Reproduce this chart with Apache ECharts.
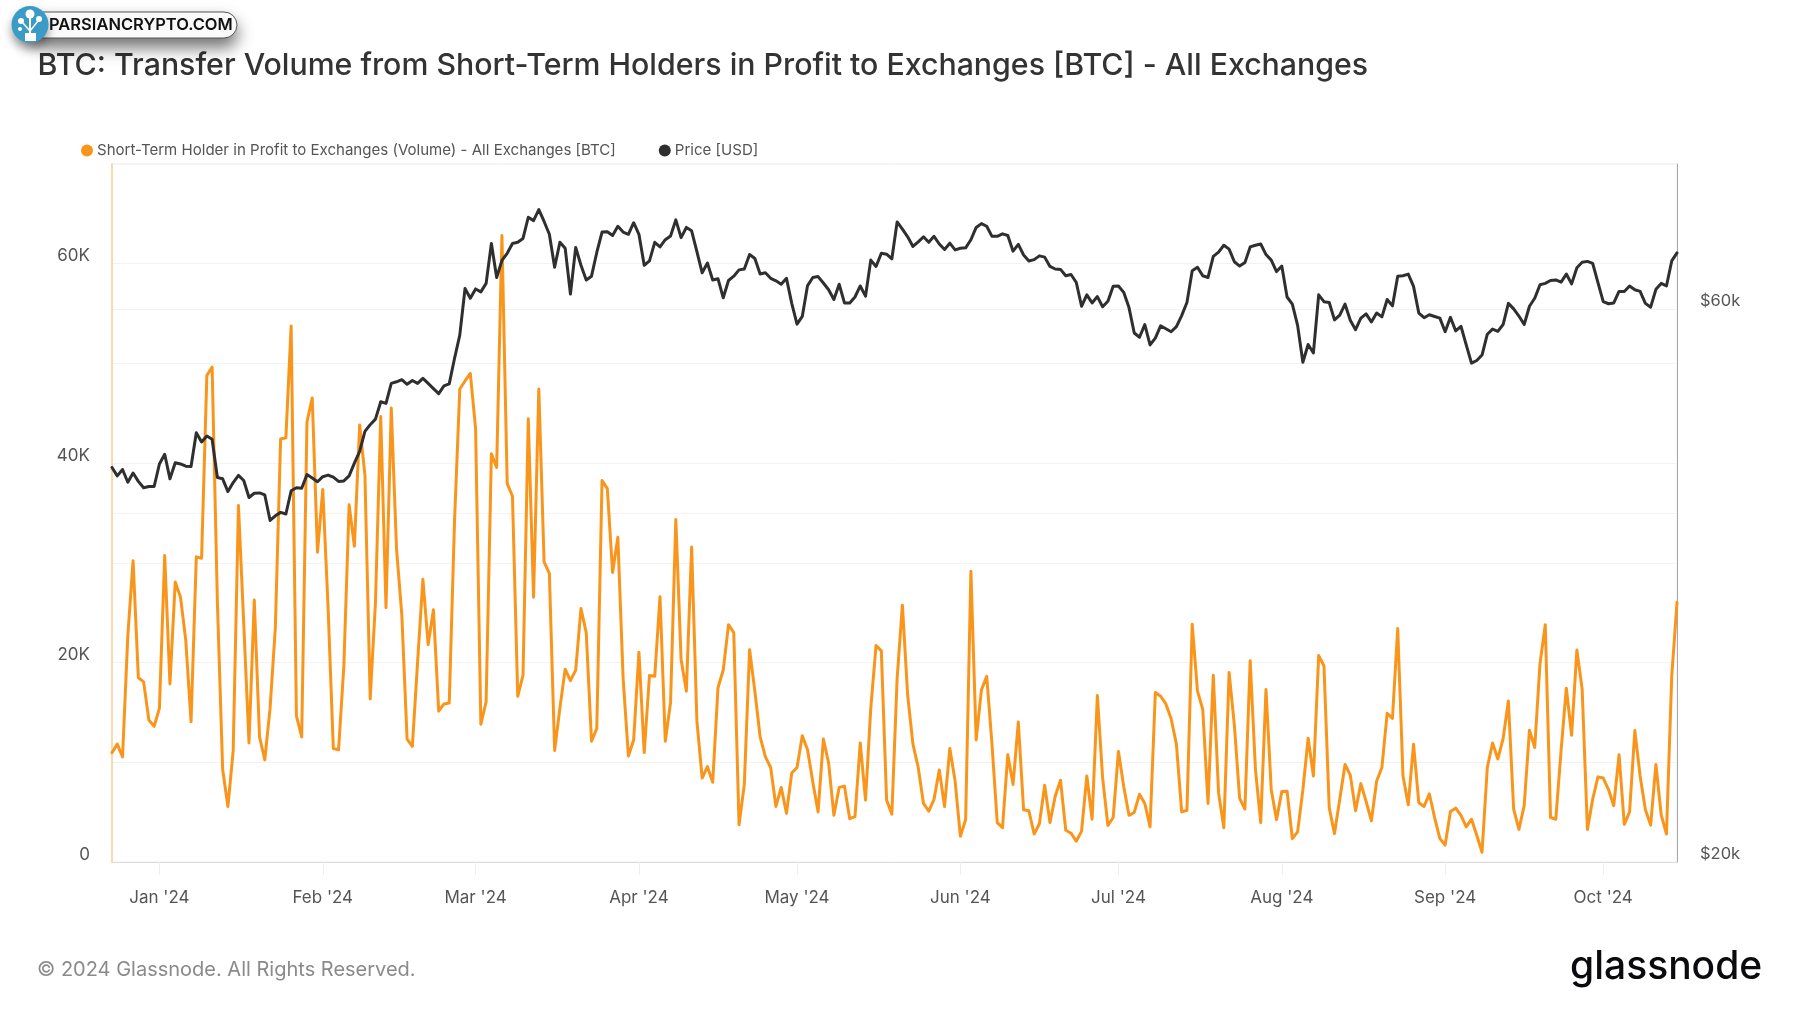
<!DOCTYPE html>
<html>
<head>
<meta charset="utf-8">
<style>html,body{margin:0;padding:0;background:#fff}#c{width:1800px;height:1013px}</style>
<script src="https://cdn.jsdelivr.net/npm/echarts@6/dist/echarts.min.js"></script>
</head>
<body>
<div id="c"></div>
<script>
const TITLE = "BTC: Transfer Volume from Short-Term Holders in Profit to Exchanges [BTC] - All Exchanges";
const VOLUME_NAME = "Short-Term Holder in Profit to Exchanges (Volume) - All Exchanges [BTC]";
const PRICE_NAME = "Price [USD]";
const START_DATE = "2023-12-23";
const MONTHS = ["Jan","Feb","Mar","Apr","May","Jun","Jul","Aug","Sep","Oct","Nov","Dec"];
const LEFT_LABELS = [0, 20000, 40000, 60000];
const RIGHT_LABELS = [20000, 60000];
const RIGHT_GRID = [40000, 60000];

const volume = [
10970,11820,10540,22650,30220,18490,18060,14240,13600,15430,
30730,17850,28090,26560,22230,14070,30600,30470,48790,49640,
26050,9270,5570,11180,35740,23930,11940,26270,12540,10240,
15430,23500,42420,42540,53760,14660,12540,44120,46540,31070,
37360,25630,11390,11260,19680,35830,31660,43820,38800,16360,
26050,44670,25500,45520,31370,24780,12330,11600,20100,28350,
21800,25290,15130,15850,15940,34130,47430,48240,49000,43480,
13810,16070,40930,39570,62820,37950,36680,16620,18740,44460,
26560,47430,30090,28940,11180,15430,19340,18190,19250,25420,
22990,12110,13390,38250,37440,29030,32560,18400,10630,12240,
21040,10970,18700,18620,26610,12110,15980,34340,20320,17130,
31580,14150,8420,9560,7990,17470,19250,23800,22990,3740,
7780,21290,17130,12540,10540,9480,5570,7480,4890,8930,
9480,12670,11260,7990,5020,12330,9900,4680,7480,7610,
4340,4550,11940,6210,15430,21720,21170,6210,4800,18400,
25760,16700,11820,9480,5870,5100,6290,9220,5570,11390,
8120,2590,4250,29160,12240,17260,18620,11820,3950,3440,
10750,7780,14030,5230,5140,2810,3830,7690,3950,6590,
8200,3190,2890,2080,3100,8630,4290,16700,8420,3660,
4460,11090,7570,4680,4970,6800,5870,3530,17000,16620,
15850,14370,11820,5020,5190,23840,17130,15300,5870,18740,
6930,3440,19000,13730,6380,5310,20190,9270,3950,17300,
7230,4250,7060,7100,2340,3020,7230,12410,8630,20700,
19680,5440,2850,6290,9780,8710,5140,7860,6080,4120,
8120,9480,14920,14410,23420,8630,5740,11820,5950,5570,
6840,4460,2340,1700,5060,5400,4680,3530,4290,2680,
980,9480,11940,10330,12370,16150,5310,3270,5650,13220,
11480,19890,23800,4460,4290,11180,17430,12710,21250,17340,
3270,6290,8540,8420,7270,5650,10750,3780,5020,13180,
8630,5230,3700,9780,4720,2810,18620,26050
];

const price = [
43790,43060,43610,42520,43310,42590,42060,42160,42160,44090,
44950,42810,44200,44090,43900,43870,46920,46060,46610,46300,
42920,42810,41740,42490,43100,42670,41250,41600,41630,41460,
39410,39780,40050,39920,41810,42060,42020,43170,42880,42560,
42990,43130,42950,42590,42630,43060,44160,45210,47040,47670,
48200,49890,49730,51740,51910,52130,51650,52040,51740,52260,
51740,51210,50700,51480,51690,54370,56950,62470,61280,62420,
62060,63110,68310,63860,66050,67000,68310,68480,69000,71970,
71490,73070,71370,69580,65160,68480,67680,61800,67790,65430,
63540,64020,67110,69880,69940,69410,70700,69880,69580,71190,
69580,65430,65990,68480,67850,68830,69350,71600,69120,70530,
70060,67220,64450,65710,63540,63700,61330,63480,64020,64830,
64940,66830,66320,64290,64450,63750,63430,63000,63750,60660,
58210,59100,62840,63860,63970,63160,62320,61120,63000,60710,
60710,61430,62790,61530,66100,65270,67000,66880,66270,71300,
70290,69230,67910,68540,69230,68480,69290,68250,67510,68360,
67450,67680,67730,68830,70530,71070,70700,69290,69290,69640,
69410,67280,68190,66770,65990,66160,66660,66490,65270,64940,
64890,64070,64240,63220,60310,61690,60710,61480,60250,60920,
62740,62790,62000,60150,57190,56710,58160,55850,56620,58010,
57670,57330,57910,59200,60760,64720,65160,64070,63860,66600,
67160,68080,67560,65880,65320,65770,67850,68080,68250,66830,
66100,64610,65320,61430,60560,58060,53960,55900,54970,61690,
60860,60760,58700,59250,60560,58650,57570,58900,59400,58450,
59500,59050,61120,60350,64020,64080,64290,62740,59500,58950,
59300,59100,58900,57330,59000,57430,57960,55850,53870,54150,
54740,57050,57630,57380,58160,60660,60000,59150,58160,60310,
61280,62950,63110,63480,63540,63270,64290,63050,65110,65820,
65930,65660,63220,60860,60610,60710,62110,62110,62790,62320,
62110,60660,60200,62370,63110,62790,65990,67050
];

const dates = volume.map((_, i) => {
  const d = new Date(START_DATE + "T00:00:00Z");
  d.setUTCDate(d.getUTCDate() + i);
  return d.toISOString().slice(0, 10);
});
const isMonthStart = (i, v) => v.endsWith("-01");
const FONT = "Inter";

const chart = echarts.init(document.getElementById("c"), null, {renderer: "canvas"});
chart.setOption({
  animation: false,
  backgroundColor: "#fff",
  textStyle: {fontFamily: FONT},
  title: {
    text: TITLE, left: 32.5, top: 46,
    textStyle: {fontFamily: FONT, fontSize: 30.3, fontWeight: 500, color: "#333"}
  },
  legend: {
    left: 76, top: 138, itemWidth: 12, itemHeight: 12, itemGap: 43, icon: "circle",
    data: [VOLUME_NAME, PRICE_NAME],
    textStyle: {fontFamily: FONT, fontSize: 15.06, color: "#555", padding: [0, 0, 0, -1]}
  },
  grid: {left: 112, right: 123, top: 164, bottom: 151, show: true, borderColor: "#ececec", borderWidth: 1, backgroundColor: "#fff"},
  xAxis: {
    type: "category", data: dates, boundaryGap: false,
    axisLine: {lineStyle: {color: "#dcdcdc", width: 1}},
    axisTick: {show: true, length: 13, interval: isMonthStart, alignWithLabel: true, lineStyle: {color: "#eeeeee"}},
    axisLabel: {
      interval: isMonthStart, margin: 27, fontSize: 17, color: "#555", fontFamily: FONT, hideOverlap: false,
      formatter: v => MONTHS[+v.slice(5, 7) - 1] + " '" + v.slice(2, 4)
    },
    splitLine: {show: false}
  },
  yAxis: [
    {
      type: "value", min: 0, max: 70000, interval: 10000, position: "left",
      axisLine: {show: true, lineStyle: {color: "#fcd9ad", width: 2}},
      axisTick: {show: false},
      axisLabel: {
        margin: 22, fontSize: 17, color: "#555", fontFamily: FONT, verticalAlign: "bottom", lineHeight: 15,
        formatter: v => LEFT_LABELS.includes(v) ? (v === 0 ? "0" : (v / 1000) + "K") : ""
      },
      splitLine: {show: true, lineStyle: {color: "#f3f3f3", width: 1}}
    },
    {
      type: "log", logBase: 2, min: 20000, max: 80000, position: "right",
      axisLine: {show: true, lineStyle: {color: "#a8a8a8", width: 1}},
      axisTick: {show: false, customValues: RIGHT_GRID},
      axisLabel: {
        customValues: RIGHT_LABELS, margin: 23, fontSize: 16.5, color: "#555", fontFamily: FONT,
        verticalAlign: "bottom", lineHeight: 15, formatter: v => "$" + Math.round(v / 1000) + "k"
      },
      splitLine: {show: true, lineStyle: {color: "#f3f3f3", width: 1}}
    }
  ],
  series: [
    {
      name: VOLUME_NAME, type: "line", yAxisIndex: 0, data: volume, symbol: "none",
      lineStyle: {color: "#f9951b", width: 3, join: "round", cap: "round"}, itemStyle: {color: "#f9951b"}, z: 2
    },
    {
      name: PRICE_NAME, type: "line", yAxisIndex: 1, data: price, symbol: "none",
      lineStyle: {color: "#2f2f2f", width: 3, join: "round", cap: "round"}, itemStyle: {color: "#2f2f2f"}, z: 3
    }
  ],
  graphic: [
    {type: "text", left: 37, top: 959.5, style: {text: "© 2024 Glassnode. All Rights Reserved.", font: "400 20px Inter", fill: "#8a8a8a"}},
    {type: "text", left: 1570, top: 948, style: {text: "glassnode", font: "500 39px Inter", fill: "#0b0b0f"}},
    {type: "rect", shape: {x: 30, y: 12, width: 207, height: 26, r: 13},
      style: {fill: "#fff", stroke: "#555", lineWidth: 1, shadowBlur: 16, shadowOffsetY: 9, shadowColor: "rgba(0,0,0,0.55)"}, z: 10},
    {type: "circle", shape: {cx: 30, cy: 24.5, r: 18.5}, style: {fill: "#3a9bc6", shadowBlur: 10, shadowOffsetY: 6, shadowColor: "rgba(0,0,0,0.4)"}, z: 11},
    {type: "circle", shape: {cx: 30, cy: 14, r: 4.5}, style: {fill: "#fff"}, z: 12},
    {type: "circle", shape: {cx: 21, cy: 21, r: 3}, style: {fill: "#fff"}, z: 12},
    {type: "circle", shape: {cx: 39, cy: 19, r: 3}, style: {fill: "#fff"}, z: 12},
    {type: "circle", shape: {cx: 20, cy: 29, r: 2}, style: {fill: "#fff"}, z: 12},
    {type: "rect", shape: {x: 25, y: 33, width: 11, height: 8}, style: {fill: "#fff"}, z: 12},
    {type: "polyline", shape: {points: [[30, 34], [30, 18]]}, style: {stroke: "#fff", lineWidth: 2, fill: null}, z: 12},
    {type: "polyline", shape: {points: [[23, 23], [30, 31], [38, 21]]}, style: {stroke: "#fff", lineWidth: 1.5, fill: null}, z: 12},
    {type: "text", left: 49, top: 17, style: {text: "PARSIANCRYPTO.COM", font: "600 16.5px Inter", fill: "#111"}, z: 13}
  ]
});
</script>
</body>
</html>
